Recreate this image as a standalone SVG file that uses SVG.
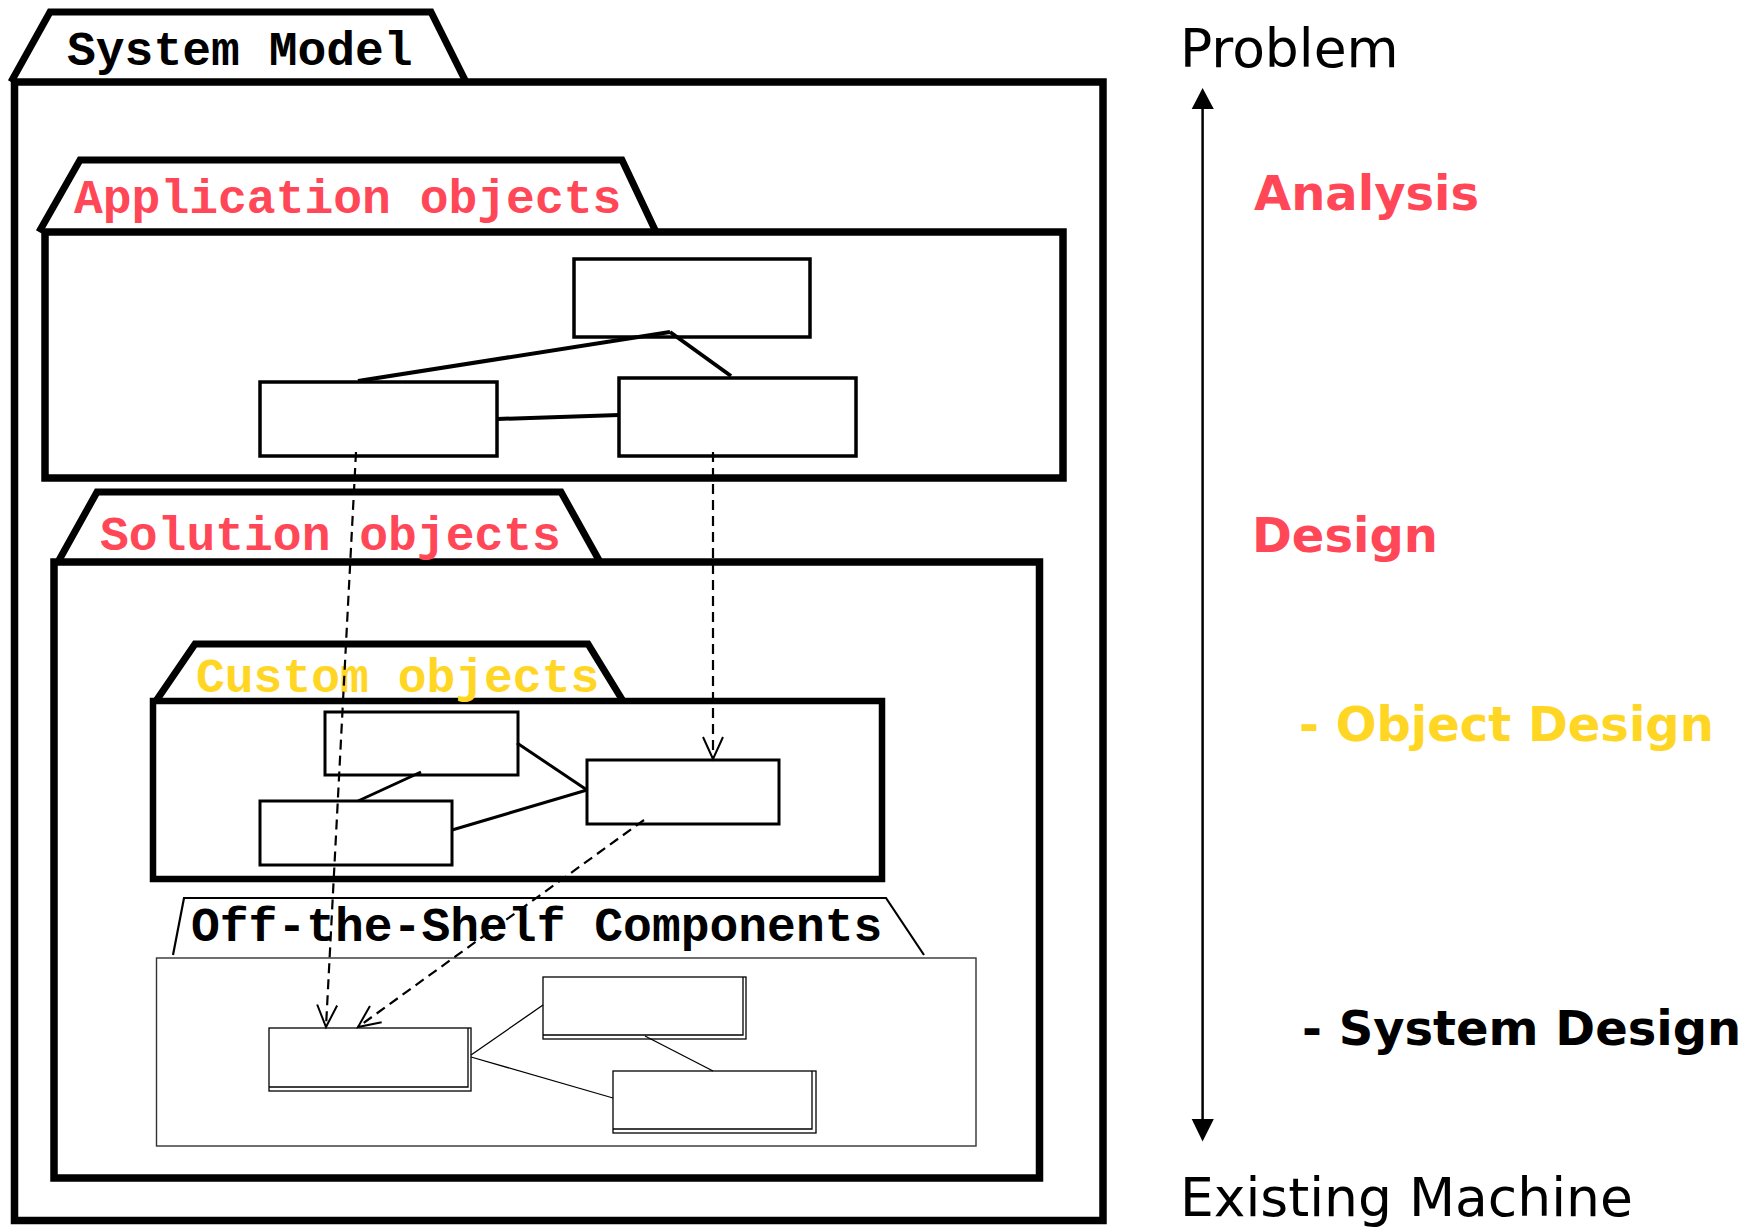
<svg xmlns="http://www.w3.org/2000/svg" width="1756" height="1230" viewBox="0 0 1756 1230">
<style>
.pk{fill:none;stroke:#000;stroke-width:7.5;stroke-linejoin:miter}
.tab{fill:none;stroke:#000;stroke-width:7;stroke-linejoin:miter}
.ptitle{font-family:"Liberation Mono","Courier New",monospace;font-weight:bold;font-size:48px}
.obj{fill:#fff;stroke:#000;stroke-width:3.5}
.link{fill:none;stroke:#000;stroke-width:4}
.thin{fill:none;stroke:#000;stroke-width:1.3}
.dash{fill:none;stroke:#000;stroke-width:2.2;stroke-dasharray:10 6}
.side{font-family:"DejaVu Sans","Liberation Sans",sans-serif}
.red{fill:#FF4757}
.yel{fill:#FFD624}
</style>
<defs>
<marker id="open" markerUnits="userSpaceOnUse" markerWidth="30" markerHeight="30" viewBox="-25 -15 30 30" refX="0" refY="0" orient="auto">
<path d="M-22,-10 L0,0 L-22,10" fill="none" stroke="#000" stroke-width="2" stroke-dasharray="none"/>
</marker>
</defs>
<rect width="1756" height="1230" fill="#fff"/>

<g id="system-model">
<polyline class="tab" points="11,82 50,12 431,12 466,82"/>
<rect class="pk" x="14.5" y="82" width="1088.5" height="1138.5"/>
<text class="ptitle" x="67" y="65">System Model</text>
</g>

<g id="application-objects">
<polyline class="tab" points="39,232 80,160 622,160 656,232"/>
<rect class="pk" x="45" y="232" width="1018" height="246"/>
<text class="ptitle red" x="74" y="213">Application objects</text>
</g>

<g id="app-obj-a"><rect class="obj" x="574" y="259" width="236" height="78"/></g>
<g id="app-obj-b"><rect class="obj" x="260" y="382" width="237" height="74"/></g>
<g id="app-obj-c"><rect class="obj" x="619" y="378" width="237" height="78"/></g>

<g id="solution-objects">
<polyline class="tab" points="58,562 97,492 561,492 600,562"/>
<rect class="pk" x="54" y="562" width="985.5" height="616"/>
<text class="ptitle red" x="100" y="550">Solution objects</text>
</g>

<g id="custom-objects">
<polyline class="tab" points="156,701 195,644 588,644 623,701"/>
<rect class="pk" x="153" y="701" width="729" height="178" style="stroke-width:6.5"/>
<text class="ptitle yel" x="196" y="692">Custom objects</text>
</g>

<g id="custom-obj-d"><rect class="obj" x="325" y="712" width="193" height="63" style="stroke-width:3"/></g>
<g id="custom-obj-e"><rect class="obj" x="260" y="801" width="192" height="64" style="stroke-width:3"/></g>
<g id="custom-obj-f"><rect class="obj" x="587" y="760" width="192" height="64" style="stroke-width:3"/></g>

<g id="off-the-shelf">
<polyline points="173,955 184,898 886,898 924,955" fill="none" stroke="#000" stroke-width="2.2"/>
<rect x="156.5" y="958" width="819.5" height="188" fill="none" stroke="#333" stroke-width="1.4"/>
<text class="ptitle" x="191" y="941">Off-the-Shelf Components</text>
</g>

<g id="ots-obj-g">
<rect class="thin" x="269" y="1028" width="202" height="63"/>
<polyline class="thin" points="468,1028 468,1087 269,1087"/>
</g>
<g id="ots-obj-h">
<rect class="thin" x="543" y="977" width="203" height="62"/>
<polyline class="thin" points="743,977 743,1035 543,1035"/>
</g>
<g id="ots-obj-i">
<rect class="thin" x="613" y="1071" width="203" height="62"/>
<polyline class="thin" points="812,1071 812,1129 613,1129"/>
</g>

<g id="connectors">
<line class="link" x1="358" y1="381" x2="670" y2="332"/>
<line class="link" x1="670" y1="332" x2="731" y2="376"/>
<line class="link" x1="497" y1="419" x2="619" y2="415"/>
<line class="link" style="stroke-width:3" x1="517" y1="743" x2="587" y2="790"/>
<line class="link" style="stroke-width:3" x1="452" y1="830" x2="587" y2="790"/>
<line class="link" style="stroke-width:3" x1="421" y1="772" x2="358" y2="801"/>
<line class="thin" x1="471" y1="1055" x2="543" y2="1005"/>
<line class="thin" x1="471" y1="1057" x2="613" y2="1098"/>
<line class="thin" x1="645" y1="1036" x2="713" y2="1071"/>
<line class="dash" x1="356" y1="452" x2="326" y2="1027" marker-end="url(#open)"/>
<line class="dash" x1="713" y1="452" x2="713" y2="759" marker-end="url(#open)"/>
<line class="dash" x1="644" y1="820" x2="358" y2="1027" marker-end="url(#open)"/>
</g>

<g id="scale-axis">
<line x1="1202.6" y1="105" x2="1202.6" y2="1122" stroke="#000" stroke-width="2.5"/>
<polygon points="1202.6,88 1191.7,109 1213.8,109" fill="#000"/>
<polygon points="1202.6,1141.5 1191.7,1119 1213.8,1119" fill="#000"/>
</g>

<g id="labels" class="side">
<text x="1180" y="67" font-size="53.5">Problem</text>
<text class="red" x="1254" y="210" font-size="48" font-weight="bold">Analysis</text>
<text class="red" x="1252" y="552" font-size="48" font-weight="bold">Design</text>
<text class="yel" x="1299" y="741" font-size="48" font-weight="bold">- Object Design</text>
<text x="1302" y="1044.5" font-size="48" font-weight="bold">- System Design</text>
<text x="1180" y="1216" font-size="53.5">Existing Machine</text>
</g>
</svg>
